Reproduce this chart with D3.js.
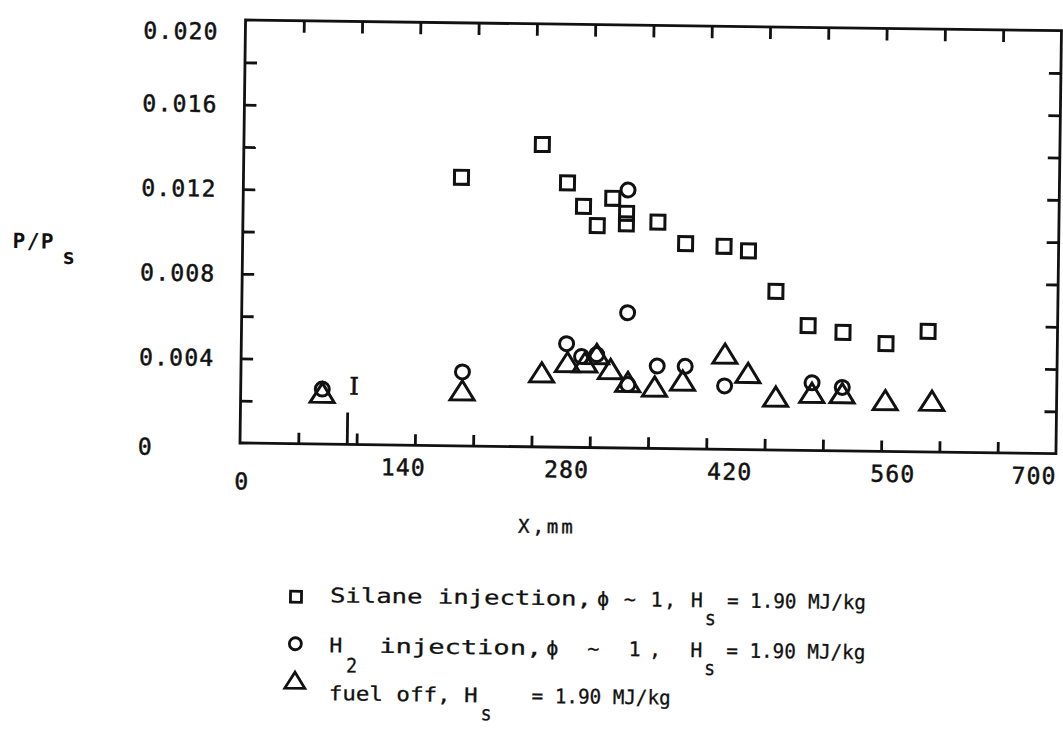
<!DOCTYPE html>
<html><head><meta charset="utf-8">
<script src="https://cdn.jsdelivr.net/npm/d3@7"></script>
<style>body{margin:0;background:#fff;} svg{display:block;}</style>
</head><body>
<svg id="c" width="1063" height="738"></svg>
<script>
// ---- data ----
const silaneX = [187, 256, 278, 292, 304, 317, 329, 329, 356, 380, 413, 434, 458, 486, 516, 553, 589];
const silaneY = [0.0127, 0.0143, 0.0125, 0.0114, 0.0105, 0.0118, 0.0111, 0.0106, 0.0107, 0.0097, 0.0096, 0.0094, 0.0075, 0.0059, 0.0056, 0.0051, 0.0057];
const h2X = [70, 190, 279, 292, 305, 330, 331, 332, 357, 381, 415, 490, 516];
const h2Y = [0.0026, 0.0035, 0.0049, 0.0043, 0.0044, 0.0122, 0.0064, 0.0030, 0.0039, 0.0039, 0.0030, 0.0032, 0.0030];
const offX = [70, 190, 258, 280, 295, 305, 317, 332, 355, 379, 415, 435, 459, 490, 516, 553, 593];
const offY = [0.0024, 0.0026, 0.0035, 0.0040, 0.0040, 0.0044, 0.0037, 0.0031, 0.0029, 0.0032, 0.0045, 0.0036, 0.0025, 0.0027, 0.0027, 0.0024, 0.0024];
const xTickLabels = [0, 140, 280, 420, 560, 700];
const yTickLabels = [0, 0.004, 0.008, 0.012, 0.016, 0.020];
const injectorX = [92];
const injectorLabel = ["I"];
const yTitle = ["P/P", "s"];
const xTitle = ["X,mm"];
const legendSeries = ["square", "circle", "triangle"];

// ---- drawing ----
const ink = "#111";
const mono = "'DejaVu Sans Mono', 'Liberation Mono', monospace";
const svg = d3.select("#c");
const root = svg.append("g").attr("transform", "rotate(0.75,240,443)");
const x = d3.scaleLinear().domain([0, 700]).range([240, 1056]);
const y = d3.scaleLinear().domain([0, 0.020]).range([443, 20]);

root.append("rect")
  .attr("x", x(0)).attr("y", y(0.020))
  .attr("width", x(700) - x(0)).attr("height", y(0) - y(0.020))
  .attr("fill", "none").attr("stroke", ink).attr("stroke-width", 2.8);

function tickStyle(g) {
  g.select(".domain").remove();
  g.selectAll("text").remove();
  g.selectAll("line").attr("stroke", ink).attr("stroke-width", 2.8);
}
const xMinor = x.ticks(10).slice(1, -1);
const yMinor = y.ticks(10).slice(1, -1);
root.append("g").attr("transform", `translate(0,${y(0)})`)
  .call(d3.axisBottom(x).tickValues(xMinor).tickSize(-11).tickFormat("")).call(tickStyle);
root.append("g").attr("transform", `translate(0,${y(0.020)})`)
  .call(d3.axisTop(x).tickValues(xMinor).tickSize(-12).tickFormat("")).call(tickStyle);
root.append("g").attr("transform", `translate(${x(0)},0)`)
  .call(d3.axisLeft(y).tickValues(yMinor).tickSize(-12).tickFormat("")).call(tickStyle);
root.append("g").attr("transform", `translate(${x(700)},0)`)
  .call(d3.axisRight(y).tickValues(yMinor).tickSize(-12).tickFormat("")).call(tickStyle);

// tick labels
const labelStyle = sel => sel.attr("font-family", mono).attr("font-size", 23).attr("letter-spacing", 1.2)
  .attr("fill", ink).attr("stroke", ink).attr("stroke-width", 0.5);
const xl = root.append("g").attr("transform", `translate(0,${y(0)})`)
  .call(d3.axisBottom(x).tickValues(xTickLabels).tickSize(0).tickPadding(14).tickFormat(d3.format("d")));
xl.select(".domain").remove();
xl.selectAll("text").call(labelStyle);
xl.selectAll(".tick").filter(d => d === 0).select("text").attr("dy", "1.41em").attr("x", 2);
xl.selectAll(".tick").filter(d => d === 700).select("text").attr("x", -22);

const yl = root.append("g").attr("transform", `translate(${x(0)},0)`)
  .call(d3.axisLeft(y).tickValues(yTickLabels).tickSize(0)
    .tickFormat(d => d === 0 ? "0" : d3.format(".3f")(d)));
yl.select(".domain").remove();
yl.selectAll("text").call(labelStyle).attr("text-anchor", "start").attr("x", -102);
yl.selectAll(".tick").filter(d => d === 0.020).select("text").attr("dy", "0.84em");
yl.selectAll(".tick").filter(d => d === 0).select("text").attr("dy", "0.54em");

// axis titles
const yt = root.append("text").attr("font-family", mono).attr("font-weight", "bold")
  .attr("font-size", 21).attr("letter-spacing", 1.5).attr("fill", ink);
yt.append("tspan").attr("x", 10).attr("y", 251).text(yTitle[0]);
yt.append("tspan").attr("x", 60).attr("y", 266).text(yTitle[1]);
root.append("text").attr("x", 548).attr("y", 529).attr("text-anchor", "middle")
  .attr("font-family", mono).attr("font-size", 19).attr("letter-spacing", 3)
  .attr("fill", ink).attr("stroke", ink).attr("stroke-width", 0.4)
  .text(xTitle[0]);

// injector marker
root.append("line").attr("x1", x(injectorX[0])).attr("x2", x(injectorX[0]))
  .attr("y1", y(0)).attr("y2", y(0) - 32).attr("stroke", ink).attr("stroke-width", 2.8);
root.append("text").attr("x", x(injectorX[0]) + 6).attr("y", 393).attr("text-anchor", "middle")
  .attr("font-family", "'DejaVu Serif', serif").attr("font-size", 24).attr("fill", ink)
  .attr("stroke", ink).attr("stroke-width", 0.6)
  .text(injectorLabel[0]);

// markers
const markerShapes = {
  square: s => `M${-s},${-s}H${s}V${s}H${-s}Z`,
  circle: s => `M${-s},0A${s},${s} 0 1,0 ${s},0A${s},${s} 0 1,0 ${-s},0Z`,
  triangle: s => `M0,${-s * 0.85}L${s},${s * 0.75}L${-s},${s * 0.75}Z`
};
function drawSeries(xs, ys, shape, size) {
  root.append("g").selectAll("path").data(d3.zip(xs, ys)).join("path")
    .attr("transform", d => `translate(${x(d[0])},${y(d[1])})`)
    .attr("d", markerShapes[shape](size))
    .attr("fill", "none").attr("stroke", ink).attr("stroke-width", 3);
}
drawSeries(offX, offY, "triangle", 12);
drawSeries(h2X, h2Y, "circle", 7);
drawSeries(silaneX, silaneY, "square", 7);

// legend
const lg = root.append("g");
const legendPos = [[298, 596, 5.5], [298, 643, 6], [298, 680, 10]];
legendSeries.forEach((s, i) => {
  lg.append("path").attr("transform", `translate(${legendPos[i][0]},${legendPos[i][1]})`)
    .attr("d", markerShapes[s](legendPos[i][2]))
    .attr("fill", "none").attr("stroke", ink).attr("stroke-width", 2.8);
});
const legendSegments = [
  // [text, x, y, textLength, adjust]
  ["Silane injection,", 332, 601, 262, "spacingAndGlyphs"],
  ["\u03D5 ~ 1, H", 599, 601, 106, "spacing"],
  ["s", 707, 619, 11, "spacingAndGlyphs"],
  ["= 1.90 MJ/kg", 729, 601, 139, "spacingAndGlyphs"],
  ["H", 332, 651, 13, "spacingAndGlyphs"],
  ["2", 349, 671, 11, "spacingAndGlyphs"],
  ["injection,", 382, 651, 163, "spacingAndGlyphs"],
  ["\u03D5 ~ 1, H", 549, 651, 156, "spacing"],
  ["s", 707, 669, 11, "spacingAndGlyphs"],
  ["= 1.90 MJ/kg", 729, 651, 139, "spacingAndGlyphs"],
  ["fuel off, H", 332, 699, 149, "spacingAndGlyphs"],
  ["s", 484, 717, 11, "spacingAndGlyphs"],
  ["= 1.90 MJ/kg", 535, 699, 139, "spacingAndGlyphs"]
];
lg.selectAll("text.seg").data(legendSegments).join("text").attr("class", "seg")
  .attr("x", d => d[1]).attr("y", d => d[2])
  .attr("textLength", d => d[3]).attr("lengthAdjust", d => d[4])
  .attr("font-family", mono).attr("font-size", 20).attr("fill", ink)
  .attr("stroke", ink).attr("stroke-width", 0.3)
  .text(d => d[0]);
</script>
</body></html>
